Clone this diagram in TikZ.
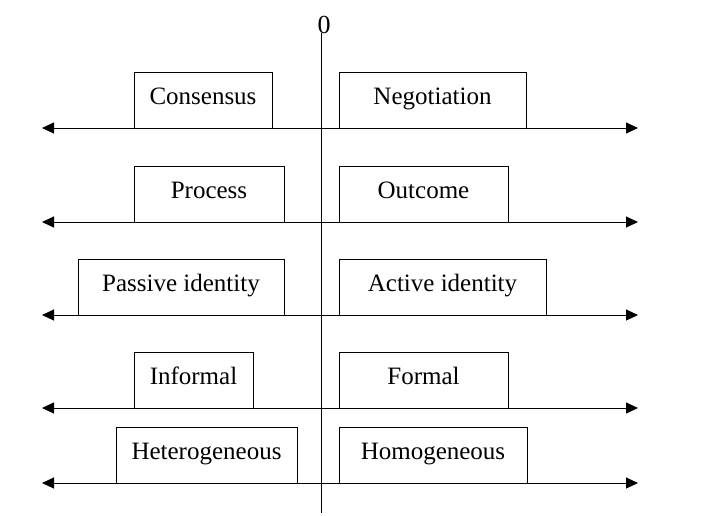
\documentclass[tikz,border=0pt]{standalone}
\usepackage{fontspec}
\setmainfont{Liberation Serif}
\usetikzlibrary{arrows.meta}
\begin{document}
\begin{tikzpicture}[x=1pt,y=-1pt,
  lbl/.style={draw,line width=1pt,inner sep=0pt,minimum height=56pt,text height=14pt,text depth=6pt,font=\fontsize{25}{28}\selectfont,anchor=center},
  axis/.style={line width=1pt,{Triangle[length=12pt,width=11pt]}-{Triangle[length=12pt,width=11pt]}},
  vaxis/.style={line width=1pt}]
\useasboundingbox (0,0) rectangle (727,515);
% vertical axis
\coordinate (vtop) at (321,33);
\coordinate (vbot) at (321,513);
\draw[vaxis] (vtop) -- (vbot);
\node[font=\fontsize{26}{28}\selectfont,inner sep=0pt] (zero) at (324,25) {0};
% horizontal axes
\foreach \i/\y in {1/128,2/222,3/315,4/408,5/483}{
  \coordinate (L\i) at (42,\y);
  \coordinate (R\i) at (638,\y);
  \draw[axis] (L\i) -- (R\i);
}
% boxes
\node[lbl,minimum width=138pt] (consensus) at (203,100) {Consensus};
\node[lbl,minimum width=187pt] (negotiation) at (432.5,100) {Negotiation};
\node[lbl,minimum width=150pt] (process) at (209,194) {Process};
\node[lbl,minimum width=169pt] (outcome) at (423.5,194) {Outcome};
\node[lbl,minimum width=206pt] (passive) at (181,287) {Passive identity};
\node[lbl,minimum width=207pt] (active) at (442.5,287) {Active identity};
\node[lbl,minimum width=119pt] (informal) at (193.5,380) {Informal};
\node[lbl,minimum width=169pt] (formal) at (423.5,380) {Formal};
\node[lbl,minimum width=181pt] (hetero) at (206.5,455) {Heterogeneous};
\node[lbl,minimum width=188pt] (homo) at (433,455) {Homogeneous};
\end{tikzpicture}
\end{document}
